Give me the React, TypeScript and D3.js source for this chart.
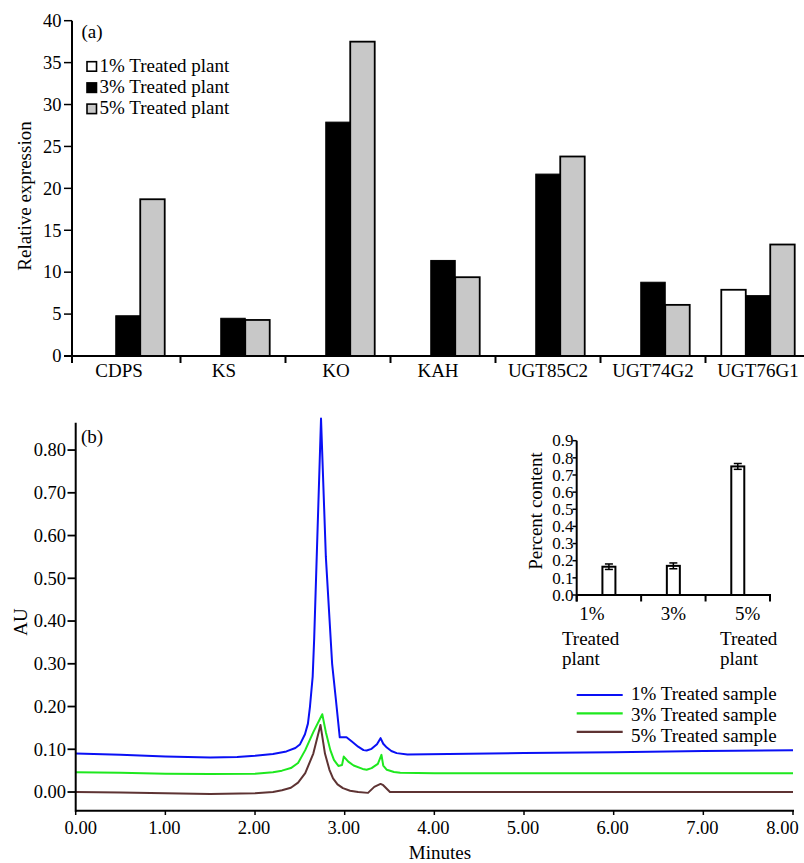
import React from 'react';
import * as d3 from 'd3';

// ---------- Panel (a) data ----------
const genes = ['CDPS', 'KS', 'KO', 'KAH', 'UGT85C2', 'UGT74G2', 'UGT76G1'];
const seriesNames = ['1% Treated plant', '3% Treated plant', '5% Treated plant'];
const treated1 = [0, 0, 0, 0, 0, 0, 7.9];
const treated3 = [4.8, 4.5, 27.9, 11.4, 21.7, 8.8, 7.2];
const treated5 = [18.7, 4.3, 37.5, 9.4, 23.8, 6.1, 13.3];
const expressionTicks = [0, 5, 10, 15, 20, 25, 30, 35, 40];

// ---------- Panel (b) data ----------
const timeTicks = [0, 1, 2, 3, 4, 5, 6, 7, 8];
const auTicks = [0, 0.1, 0.2, 0.3, 0.4, 0.5, 0.6, 0.7, 0.8];
const traceNames = ['1% Treated sample', '3% Treated sample', '5% Treated sample'];
const trace1: [number, number][] = [
  [0, 0.090], [0.5, 0.087], [1.0, 0.083], [1.5, 0.081], [1.8, 0.082], [2.0, 0.085],
  [2.2, 0.089], [2.35, 0.095], [2.45, 0.103], [2.5, 0.111], [2.557, 0.135], [2.59, 0.160],
  [2.613, 0.20], [2.643, 0.27], [2.66, 0.36], [2.736, 0.874], [2.79, 0.55], [2.86, 0.30],
  [2.90, 0.22], [2.945, 0.128], [3.02, 0.128], [3.08, 0.118], [3.15, 0.106], [3.21, 0.098],
  [3.245, 0.097], [3.30, 0.101], [3.36, 0.112], [3.40, 0.126], [3.43, 0.113], [3.47, 0.104],
  [3.52, 0.096], [3.58, 0.091], [3.70, 0.088], [5.0, 0.091], [6.0, 0.093], [7.0, 0.096],
  [8.0, 0.098],
];
const trace3: [number, number][] = [
  [0, 0.046], [0.5, 0.045], [1.0, 0.043], [1.5, 0.042], [2.0, 0.043], [2.2, 0.046],
  [2.3, 0.050], [2.4, 0.056], [2.48, 0.068], [2.56, 0.098], [2.65, 0.140], [2.75, 0.182],
  [2.79, 0.140], [2.84, 0.098], [2.88, 0.075], [2.93, 0.061], [2.97, 0.063], [2.99, 0.083],
  [3.04, 0.071], [3.10, 0.062], [3.20, 0.054], [3.245, 0.052], [3.30, 0.056], [3.37, 0.066],
  [3.41, 0.087], [3.43, 0.062], [3.47, 0.052], [3.55, 0.047], [3.62, 0.045], [4.0, 0.044],
  [8.0, 0.044],
];
const trace5: [number, number][] = [
  [0, 0.0], [0.5, -0.001], [1.0, -0.003], [1.5, -0.0045], [2.0, -0.003], [2.2, 0.0],
  [2.3, 0.004], [2.4, 0.010], [2.48, 0.022], [2.56, 0.044], [2.65, 0.090], [2.73, 0.157],
  [2.78, 0.090], [2.83, 0.052], [2.87, 0.032], [2.92, 0.018], [2.98, 0.009], [3.06, 0.003],
  [3.15, 0.0], [3.26, -0.002], [3.33, 0.012], [3.40, 0.019], [3.43, 0.016], [3.505, 0.0],
  [4.0, 0.0], [8.0, 0.0],
];

// ---------- Inset data ----------
const insetCats = ['1%', '3%', '5%'];
const insetValues = [0.165, 0.17, 0.75];
const insetErrors = [0.016, 0.017, 0.017];
const insetTicks = [0, 0.1, 0.2, 0.3, 0.4, 0.5, 0.6, 0.7, 0.8, 0.9];

const FONT = '"Liberation Serif", "Times New Roman", serif';

export default function App() {
  // ---- Panel (a) scales ----
  const yA = d3.scaleLinear().domain([0, 40]).range([356, 20.7]);
  const xA = d3.scaleBand<string>().domain(genes).range([75.5, 810.5]).paddingInner(0);
  const xSub = d3.scaleBand<string>().domain(seriesNames).range([0, xA.bandwidth()]).paddingInner(0).paddingOuter(0.645);
  const seriesVals = [treated1, treated3, treated5];
  const fills = ['#ffffff', '#000000', '#c8c8c8'];
  const labelDx: Record<string, number> = { CDPS: -9, KS: -9, KO: -2, KAH: -5 };

  // ---- Panel (b) scales ----
  const xB = d3.scaleLinear().domain([0, 8]).range([75.7, 793]);
  const yB = d3.scaleLinear().domain([-0.0437, 0.864]).range([810.7, 422.7]);
  const line = d3.line<[number, number]>().x(d => xB(d[0])).y(d => yB(d[1])).curve(d3.curveLinear);
  const traces = [trace1, trace3, trace5];
  const traceColors = ['#0a10f5', '#1ee81e', '#5e3333'];

  // ---- Inset scales ----
  const xI = d3.scaleBand<string>().domain(insetCats).range([576.7, 770]);
  const yI = d3.scaleLinear().domain([0, 0.9]).range([595, 440.7]);
  const barW = 13;

  const timeLabelDx = (t: number) => (t === 0 ? 5 : t === 8 ? -10.5 : -1);

  return (
    <svg width={804} height={863} style={{ position: 'absolute', left: 0, top: 0, background: '#fff' }} fontFamily={FONT}>
      <rect x={0} y={0} width={804} height={863} fill="#fff" />
      {/* ================= Panel (a) ================= */}
      <g>
        {genes.map((g, gi) =>
          seriesNames.map((s, si) => {
            const v = seriesVals[si][gi];
            if (v <= 0) return null;
            const x0 = (xA(g) as number) + (xSub(s) as number);
            return (
              <rect key={g + s} x={x0} y={yA(v)} width={xSub.bandwidth()} height={yA(0) - yA(v)}
                fill={fills[si]} stroke="#000" strokeWidth={si === 1 ? 1 : 1.8} />
            );
          })
        )}
        {/* y axis */}
        <line x1={72} x2={72} y1={yA(40)} y2={363} stroke="#000" strokeWidth={2} />
        {expressionTicks.map(t => (
          <g key={t}>
            <line x1={64} x2={72} y1={yA(t)} y2={yA(t)} stroke="#000" strokeWidth={1.5} />
            <text x={61.5} y={yA(t)} dy="0.34em" textAnchor="end" fontSize={18.5}>{t}</text>
          </g>
        ))}
        {/* x axis */}
        <line x1={64} x2={804} y1={356} y2={356} stroke="#000" strokeWidth={2} />
        {genes.slice(1).map(g => (
          <line key={g} x1={xA(g) as number} x2={xA(g) as number} y1={356} y2={363} stroke="#000" strokeWidth={2} />
        ))}
        {genes.map(g => (
          <text key={g} x={(xA(g) as number) + xA.bandwidth() / 2 + (labelDx[g] || 0)} y={376.5} textAnchor="middle" fontSize={19}>{g}</text>
        ))}
        <text transform={`translate(30.5,196) rotate(-90)`} textAnchor="middle" fontSize={19}>Relative expression</text>
        <text x={81.5} y={37.5} fontSize={19}>(a)</text>
        {/* legend */}
        {seriesNames.map((s, i) => (
          <g key={s}>
            <rect x={87} y={61.7 + i * 21.2} width={9.5} height={9.5} fill={fills[i]} stroke="#000" strokeWidth={1.6} />
            <text x={99.5} y={71.7 + i * 21.2} fontSize={19}>{s}</text>
          </g>
        ))}
      </g>

      {/* ================= Panel (b) ================= */}
      <g>
        {traces.map((tr, i) => (
          <path key={i} d={line(tr) || ''} fill="none" stroke={traceColors[i]} strokeWidth={2} strokeLinejoin="round" />
        ))}
        {/* y axis */}
        <line x1={xB(0)} x2={xB(0)} y1={422.7} y2={811.7} stroke="#000" strokeWidth={2} />
        {auTicks.map(t => (
          <g key={t}>
            <line x1={67.5} x2={xB(0)} y1={yB(t)} y2={yB(t)} stroke="#000" strokeWidth={1.8} />
            <text x={66} y={yB(t)} dy="0.34em" textAnchor="end" fontSize={18.5}>{t.toFixed(2)}</text>
          </g>
        ))}
        {/* x axis */}
        <line x1={xB(0)} x2={xB(8) + 1} y1={810.7} y2={810.7} stroke="#000" strokeWidth={2} />
        {timeTicks.map(t => (
          <g key={t}>
            <line x1={xB(t)} x2={xB(t)} y1={810.7} y2={815} stroke="#000" strokeWidth={1.5} />
            <text x={xB(t) + timeLabelDx(t)} y={834} textAnchor="middle" fontSize={18.5}>{t.toFixed(2)}</text>
          </g>
        ))}
        <text x={440} y={858.5} textAnchor="middle" fontSize={19}>Minutes</text>
        <text transform={`translate(27,622) rotate(-90)`} textAnchor="middle" fontSize={19}>AU</text>
        <text x={81} y={443} fontSize={19}>(b)</text>
        {/* legend */}
        {traceNames.map((n, i) => (
          <g key={n}>
            <line x1={576.7} x2={622.7} y1={695 + i * 18.4} y2={695 + i * 18.4} stroke={traceColors[i]} strokeWidth={2.2} />
            <text x={631} y={699.5 + i * 21} fontSize={19}>{n}</text>
          </g>
        ))}
      </g>

      {/* ================= Inset ================= */}
      <g>
        {insetCats.map((c, i) => {
          const cx = (xI(c) as number) + xI.bandwidth() / 2;
          const v = insetValues[i];
          const e = insetErrors[i];
          return (
            <g key={c}>
              <rect x={cx - barW / 2} y={yI(v)} width={barW} height={yI(0) - yI(v)} fill="#fff" stroke="#000" strokeWidth={2} />
              <line x1={cx} x2={cx} y1={yI(v + e)} y2={yI(v - e)} stroke="#000" strokeWidth={1.5} />
              <line x1={cx - 4} x2={cx + 4} y1={yI(v + e)} y2={yI(v + e)} stroke="#000" strokeWidth={1.5} />
              <line x1={cx - 4} x2={cx + 4} y1={yI(v - e)} y2={yI(v - e)} stroke="#000" strokeWidth={1.5} />
            </g>
          );
        })}
        <line x1={576.7} x2={576.7} y1={440.7} y2={601.5} stroke="#000" strokeWidth={2} />
        {insetTicks.map(t => (
          <g key={t}>
            <line x1={572.5} x2={576.7} y1={yI(t)} y2={yI(t)} stroke="#000" strokeWidth={1.5} />
            <text x={573.5} y={yI(t)} dy="0.34em" textAnchor="end" fontSize={17}>{t.toFixed(1)}</text>
          </g>
        ))}
        <line x1={576.7} x2={771} y1={595} y2={595} stroke="#000" strokeWidth={2} />
        {[...insetCats.map(c => xI(c) as number), 770].map((x, i) => (
          <line key={i} x1={x} x2={x} y1={595} y2={601.5} stroke="#000" strokeWidth={2} />
        ))}
        {insetCats.map((c, i) => {
          const cx = (xI(c) as number) + xI.bandwidth() / 2;
          if (i === 1) {
            return <text key={c} x={cx} y={620} textAnchor="middle" fontSize={19}>{c}</text>;
          }
          const pctDx = i === 0 ? -17 : 10;
          const lineX = i === 0 ? cx - 47 : cx - 17.8;
          return (
            <g key={c}>
              <text x={cx + pctDx} y={620} textAnchor="middle" fontSize={19}>{c}</text>
              <text x={lineX} y={645} fontSize={19}>Treated</text>
              <text x={lineX} y={665} fontSize={19}>plant</text>
            </g>
          );
        })}
        <text transform={`translate(541.5,511) rotate(-90)`} textAnchor="middle" fontSize={19}>Percent content</text>
      </g>
    </svg>
  );
}
